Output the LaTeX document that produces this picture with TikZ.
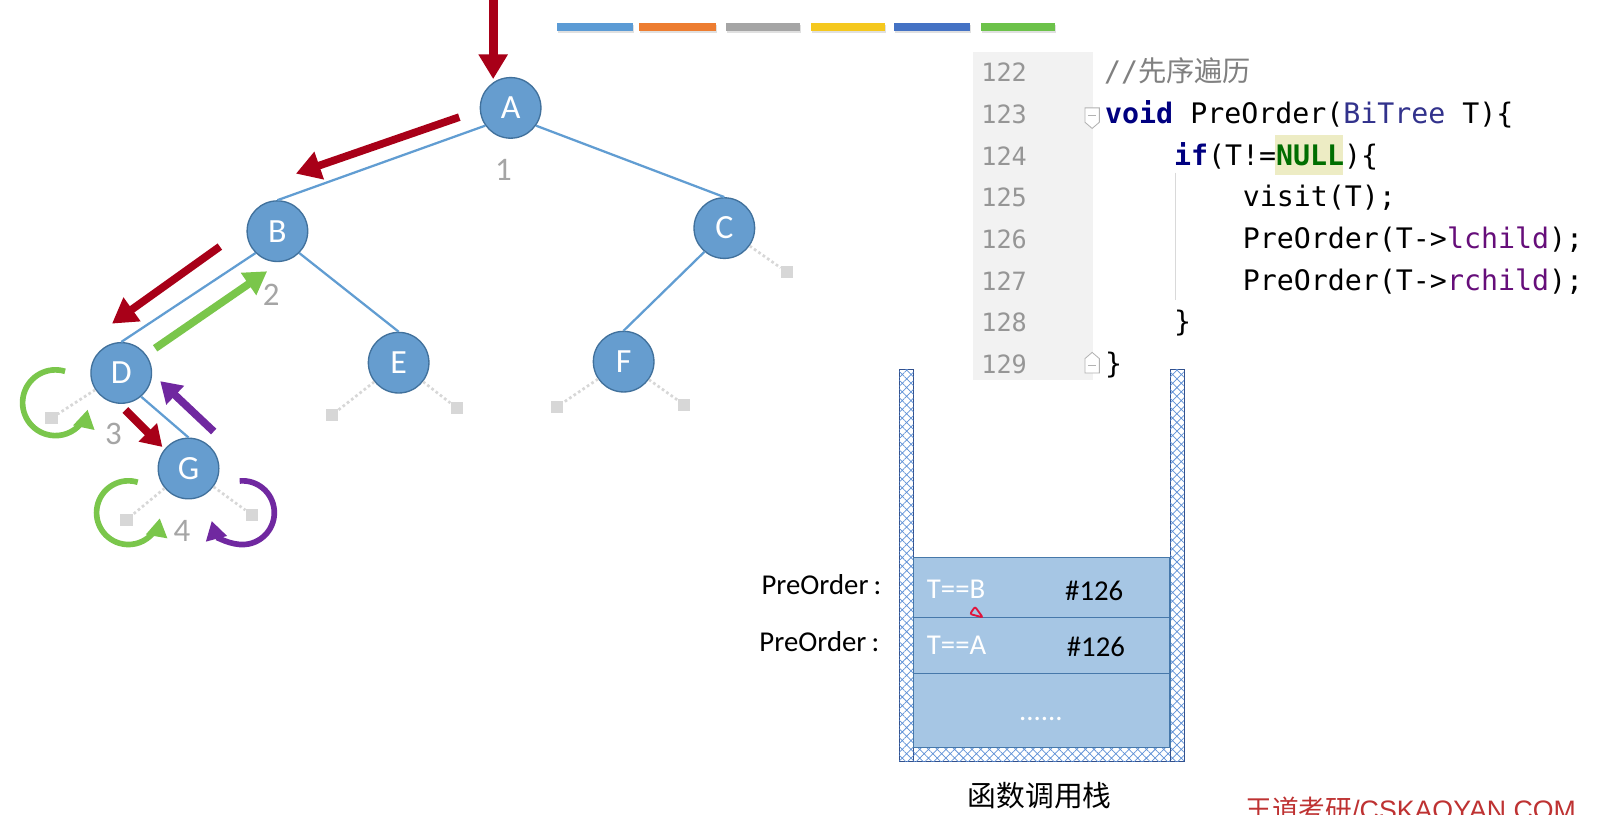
\documentclass[tikz,border=0pt]{standalone}
\usepackage{fontspec}
\setmainfont{Carlito}
\newfontfamily\cjk{Noto Sans CJK SC}
\newfontfamily\codefont{DejaVu Sans Mono}
\newfontfamily\wmlatin{Liberation Sans}
\usetikzlibrary{arrows.meta,patterns.meta}
\definecolor{arrred}{RGB}{168,0,24}
\definecolor{arrgreen}{RGB}{122,198,75}
\definecolor{arrpurple}{RGB}{112,40,160}
\definecolor{edgeblue}{RGB}{97,157,210}
\definecolor{nodefill}{RGB}{102,157,207}
\definecolor{nodeborder}{RGB}{65,113,156}
\definecolor{numgray}{RGB}{165,165,165}
\definecolor{nullgray}{RGB}{215,215,215}
\definecolor{gutter}{RGB}{242,242,242}
\definecolor{cellfill}{RGB}{166,198,228}
\definecolor{cellborder}{RGB}{70,120,170}
\definecolor{hatchblue}{RGB}{95,145,215}
\definecolor{wallborder}{RGB}{50,80,140}
\definecolor{kwblue}{RGB}{0,0,128}
\definecolor{typeblue}{RGB}{50,50,140}
\definecolor{nullgreen}{RGB}{0,110,0}
\definecolor{hlyellow}{RGB}{237,236,196}
\definecolor{fieldpurple}{RGB}{102,14,122}
\definecolor{commentgray}{RGB}{128,128,128}
\definecolor{linenogray}{RGB}{150,150,150}
\definecolor{wmred}{RGB}{190,50,50}
\definecolor{barblue}{RGB}{91,155,213}
\definecolor{barorange}{RGB}{237,125,49}
\definecolor{bargray}{RGB}{165,165,165}
\definecolor{baryellow}{RGB}{245,200,30}
\definecolor{bardblue}{RGB}{68,114,196}
\definecolor{bargreen}{RGB}{108,194,74}
\definecolor{markred}{RGB}{225,20,60}
\newcommand\cdkw[1]{{\bfseries\color{kwblue}#1}}
\newcommand\cdtype[1]{{\color{typeblue}#1}}
\newcommand\cdfield[1]{{\color{fieldpurple}#1}}
\newcommand\cdnul[1]{{\bfseries\color{nullgreen}#1}}
\tikzset{
  tnode/.style={circle, minimum size=59pt, inner sep=0pt, fill=nodefill, draw=nodeborder, line width=1.3pt, text=white, font=\fontsize{33}{33}\selectfont},
  nullsq/.style={rectangle, minimum size=12pt, inner sep=0pt, fill=nullgray},
  tedge/.style={draw=edgeblue, line width=2.2pt},
  nulledge/.style={draw=nullgray, line width=2.6pt, dash pattern=on 2.6pt off 2.6pt},
  numlbl/.style={text=numgray, inner sep=0pt, font=\fontsize{32}{32}\selectfont},
  redarr/.style={draw=arrred, line width=7.5pt, -{Triangle[length=24pt,width=27pt]}},
  greenarr/.style={draw=arrgreen, line width=7.5pt, -{Triangle[length=22pt,width=25pt]}},
  purplearr/.style={draw=arrpurple, line width=7.5pt, -{Triangle[length=22pt,width=25pt]}},
  greenloop/.style={draw=arrgreen, line width=5.5pt, -{Triangle[length=18pt,width=20pt]}},
  purpleloop/.style={draw=arrpurple, line width=5.5pt, -{Triangle[length=18pt,width=20pt]}},
  codeline/.style={anchor=base west, inner sep=0pt, font=\codefont\fontsize{27.5}{27.5}\selectfont},
  lineno/.style={anchor=base west, inner sep=0pt, text=linenogray, font=\codefont\fontsize{24.5}{24.5}\selectfont},
  wall/.style={fill=white, draw=wallborder, line width=1pt, postaction={pattern={Hatch[angle=45,distance=6pt,line width=0.7pt]}, pattern color=hatchblue}},
  cell/.style={fill=cellfill, draw=cellborder, line width=1.5pt},
  celltxt/.style={anchor=base west, inner sep=0pt, font=\fontsize{28}{28}\selectfont},
  foldmark/.style={fill=white, draw=gray!60, line width=0.8pt}
}
\begin{document}
\begin{tikzpicture}[x=1pt,y=-1pt]
\useasboundingbox (0,0) rectangle (1568,793);
\clip (0,0) rectangle (1568,793);
\fill[white] (0,0) rectangle (1568,793);

% colour bars
\foreach \xa/\xb/\cc in {542.5/615.8/barblue,622/697/barorange,706.3/779/bargray,789/861.7/baryellow,870.2/944.1/bardblue,954.5/1027.2/bargreen}{
  \fill[black!12] (\xa+1,24) rectangle (\xb+1,32);
  \fill[\cc] (\xa,22) rectangle (\xb,29.8);
}

% tree nodes
\node[tnode] (A) at (497,105) {A};
\node[tnode] (B) at (270,225) {B};
\node[tnode] (C) at (705,222) {C};
\node[tnode] (D) at (118,363) {D};
\node[tnode] (E) at (388,353) {E};
\node[tnode] (F) at (607,352) {F};
\node[tnode] (G) at (183.5,456) {G};

% null leaves
\node[nullsq] (dl) at (50,407) {};
\node[nullsq] (gl) at (123,506) {};
\node[nullsq] (gr) at (245,501) {};
\node[nullsq] (el) at (323,404) {};
\node[nullsq] (er) at (444.5,397) {};
\node[nullsq] (fl) at (542,396) {};
\node[nullsq] (fr) at (666,394) {};
\node[nullsq] (cr) at (766,265) {};

% edges
\draw[tedge] (A.215) -- (B.north);
\draw[tedge] (A.-35) -- (C.north);
\draw[tedge] (B.225) -- (D.north);
\draw[tedge] (B.-45) -- (E.north);
\draw[tedge] (C.230) -- (F.north);
\draw[tedge] (D.-50) -- (G.north);
\foreach \p/\q in {D/dl,G/gl,G/gr,E/el,E/er,F/fl,F/fr,C/cr}{
  \draw[nulledge] (\p) -- (\q);
}

% numbers
\node[numlbl] (n1) at (490,165) {1};
\node[numlbl] (n2) at (264,287) {2};
\node[numlbl] (n3) at (110.5,422) {3};
\node[numlbl] (n4) at (177,517) {4};

% traversal arrows
\coordinate (t0) at (480,-5);   \coordinate (t1) at (480,77);
\coordinate (ab0) at (447,114); \coordinate (ab1) at (288,169);
\coordinate (bd0) at (214,240); \coordinate (bd1) at (109,315);
\coordinate (db0) at (151,339); \coordinate (db1) at (260,264);
\coordinate (dg0) at (122,399); \coordinate (dg1) at (158,435);
\coordinate (gd0) at (208,420); \coordinate (gd1) at (156,371);
\draw[redarr, line width=9pt] (t0) -- (t1);
\draw[redarr] (ab0) -- (ab1);
\draw[redarr] (bd0) -- (bd1);
\draw[greenarr] (db0) -- (db1);
\draw[redarr, line width=8pt, -{Triangle[length=20pt,width=24pt]}] (dg0) -- (dg1);
\draw[purplearr, -{Triangle[length=20pt,width=24pt]}] (gd0) -- (gd1);

% loops
\coordinate (dlc) at (54,392);
\coordinate (glc) at (125,499);
\coordinate (grc) at (236,499);
\draw[greenloop] ([shift={(-73:32)}]dlc) arc[start angle=-73, end angle=-348, radius=32];
\draw[greenloop] ([shift={(-73:31)}]glc) arc[start angle=-73, end angle=-350, radius=31];
\draw[purpleloop] ([shift={(-95:31)}]grc) arc[start angle=-95, end angle=165, radius=31];

% code panel
\fill[gutter] (946.6,50.3) rectangle (1064,370);
\fill[hlyellow] (1240.6,131.4) rectangle (1307.5,170.3);
\draw[gray!30, line width=1pt] (1144.5,168) -- (1144.5,292);
\draw[foldmark] (1056,105) -- (1070,105) -- (1070,119) -- (1063,125) -- (1056,119) -- cycle;
\draw[gray!60, line width=0.8pt] (1059,112) -- (1067,112);
\draw[foldmark] (1056,363) -- (1070,363) -- (1070,349) -- (1063,343) -- (1056,349) -- cycle;
\draw[gray!60, line width=0.8pt] (1059,356) -- (1067,356);

\node[lineno] (l122) at (955,79.5) {122};
\node[lineno] (l123) at (955,120) {123};
\node[lineno] (l124) at (955,160.6) {124};
\node[lineno] (l125) at (955,201.2) {125};
\node[lineno] (l126) at (955,241.7) {126};
\node[lineno] (l127) at (955,282.3) {127};
\node[lineno] (l128) at (955,322.9) {128};
\node[lineno] (l129) at (955,363.5) {129};

\node[codeline, text=commentgray] (c122) at (1074.5,79.5) {//{\cjk\fontsize{27.5}{27.5}\selectfont 先序遍历}};
\node[codeline] (c123) at (1075.5,120) {\cdkw{void} PreOrder(\cdtype{BiTree} T)\{};
\node[codeline] (c124) at (1142.5,160.6) {\cdkw{if}(T!=\cdnul{NULL})\{};
\node[codeline] (c125) at (1209.5,201.2) {visit(T);};
\node[codeline] (c126) at (1209.5,241.7) {PreOrder(T->\cdfield{lchild});};
\node[codeline] (c127) at (1209.5,282.3) {PreOrder(T->\cdfield{rchild});};
\node[codeline] (c128) at (1142.5,322.9) {\}};
\node[codeline] (c129) at (1075.5,363.5) {\}};

% stack
\draw[wall] (875.3,360) rectangle (889,741.4);
\draw[wall] (1138.8,360) rectangle (1152.4,741.4);
\draw[wall] (889,727.4) rectangle (1138.8,741.4);
\draw[cell] (889,542.5) rectangle (1138.8,601.2);
\draw[cell] (889,601.2) rectangle (1138.8,655.4);
\draw[cell] (889,655.4) rectangle (1138.8,727.4);

\node[celltxt, text=white] (tb) at (902,582.4) {T==B};
\node[celltxt] (h1) at (1036.6,584) {\#126};
\node[celltxt, text=white] (ta) at (902,637.5) {T==A};
\node[celltxt] (h2) at (1038.2,639) {\#126};
\node[celltxt, anchor=base, text=white] (dots) at (1013,701) {......};
\node[anchor=base east, inner sep=0pt, font=\fontsize{28}{28}\selectfont] (p1) at (858,579) {PreOrder\hspace{5pt}:};
\node[anchor=base east, inner sep=0pt, font=\fontsize{28}{28}\selectfont] (p2) at (856,634) {PreOrder\hspace{5pt}:};
\node[anchor=base, inner sep=0pt, font=\cjk\fontsize{28}{28}\selectfont] (stk) at (1012,785) {函数调用栈};

% hand mark
\draw[markred, line width=1.8pt, rounded corners=2pt] (949,590.5) -- (944.1,597.6) -- (956.5,600.9) -- cycle;

% watermark
\node[anchor=base west, inner sep=0pt, text=wmred, font=\fontsize{26}{26}\selectfont] (wm) at (1212,797.6) {{\cjk 王道考研}{\wmlatin /CSKAOYAN.COM}};
\end{tikzpicture}
\end{document}
